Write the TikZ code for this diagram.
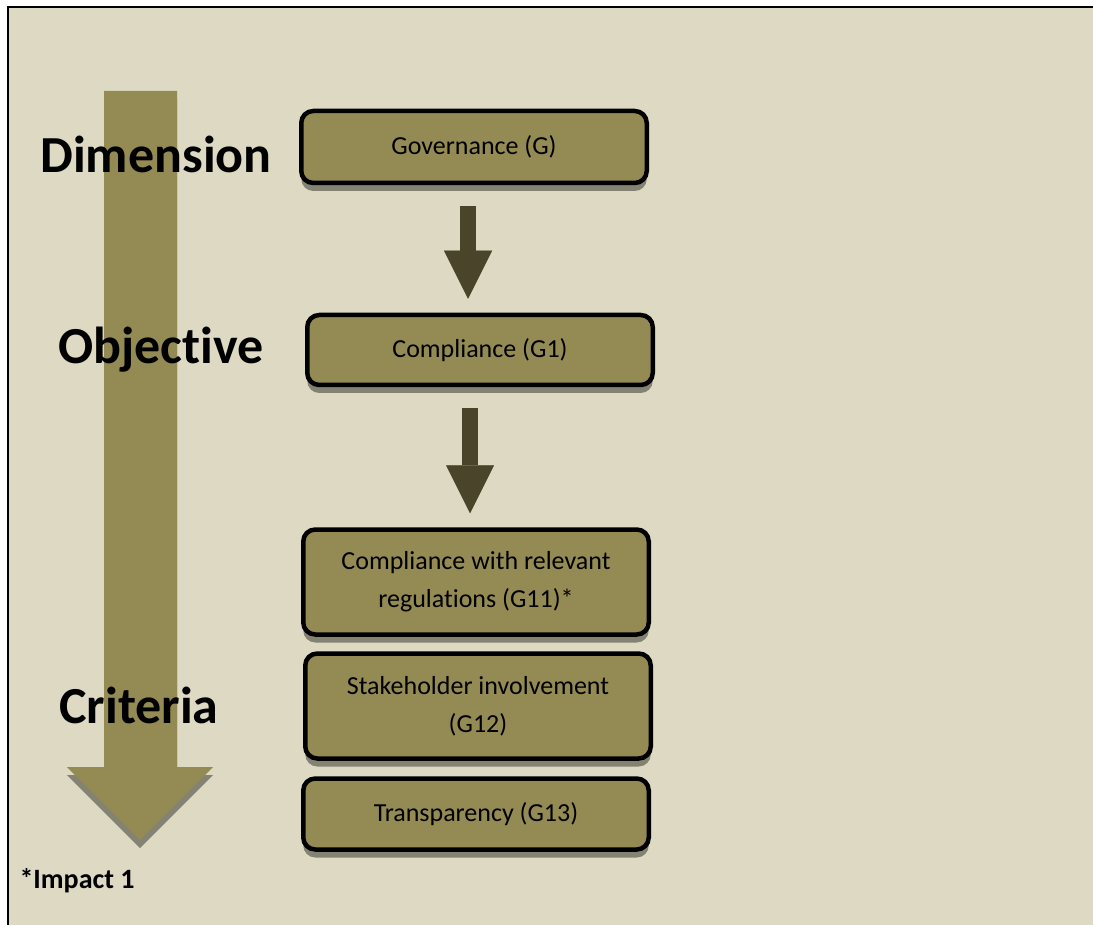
\documentclass[tikz,border=0pt]{standalone}
\usepackage{fontspec}
\setmainfont{Carlito}[Ligatures=NoCommon]
\usepackage{tikz}
\usetikzlibrary{calc,arrows.meta,shadows,positioning}
\definecolor{bgbeige}{RGB}{221,217,195}
\definecolor{boxolive}{RGB}{148,138,84}
\definecolor{darkolive}{RGB}{74,69,42}
\definecolor{shadowgrey}{RGB}{132,130,114}

\begin{document}
\begin{tikzpicture}[x=1pt,y=-1pt]

\tikzset{olivenode/.style={draw=black,line width=4.5pt,fill=boxolive,rounded corners=12pt,minimum width=345.5pt,align=center,font=\fontsize{26}{38}\selectfont,drop shadow={shadow xshift=0pt,shadow yshift=-8pt,fill=shadowgrey,opacity=1}},
levelnode/.style={font=\fontsize{52}{60}\selectfont\bfseries,anchor=base},
steparrow/.style={line width=16pt,draw=darkolive,-{Triangle[length=48pt,width=48pt,line width=0pt]},shorten <=21pt,shorten >=14pt},
stepshadow/.style={steparrow,draw=shadowgrey,xshift=2pt,yshift=-3pt}}

% Page and frame
\useasboundingbox (0,0) rectangle (1093,925);
\fill[white] (0,0) rectangle (1093,925);
\fill[bgbeige] (8,7) rectangle (1093,925);
\draw[line width=2.5pt] (8,925) -- (8,7) -- (1093,7);

% Big arrow down the left side
\fill[shadowgrey,yshift=-8pt] (104,91) -- (177,91) -- (177,767) -- (213,767) -- (140,840) -- (67,767) -- (104,767) -- cycle;
\fill[boxolive] (104,91) -- (177,91) -- (177,767) -- (213,767) -- (140,840) -- (67,767) -- (104,767) -- cycle;

% Level labels
\node[levelnode] (dimLabel) at (156,173) {Dimension};
\node[levelnode] (objLabel) at (161,363) {Objective};
\node[levelnode] (critLabel) at (139,723) {Criteria};
\node[font=\fontsize{28}{34}\selectfont\bfseries,anchor=base west] (impactNote) at (16,888) {*Impact 1};

% Boxes
\node[olivenode,minimum height=72pt] (g) at (474,147) {Governance (G)};
\node[olivenode,minimum height=70pt] (g1) at (480,350) {Compliance (G1)};
\node[olivenode,minimum height=105pt] (g11) at (476,582) {Compliance with relevant\\regulations (G11)*};
\node[olivenode,minimum height=105pt] (g12) at (478,706) {Stakeholder involvement\\(G12)};
\node[olivenode,minimum height=71pt] (g13) at (476,814) {Transparency (G13)};

% Arrows between levels
\draw[stepshadow] ([xshift=-6pt]g.south) -- ([xshift=-6pt]g.south |- g1.north);
\draw[steparrow] ([xshift=-6pt]g.south) -- ([xshift=-6pt]g.south |- g1.north);
\draw[stepshadow] ([xshift=-10pt]g1.south) -- ([xshift=-10pt]g1.south |- g11.north);
\draw[steparrow] ([xshift=-10pt]g1.south) -- ([xshift=-10pt]g1.south |- g11.north);

\end{tikzpicture}
\end{document}
